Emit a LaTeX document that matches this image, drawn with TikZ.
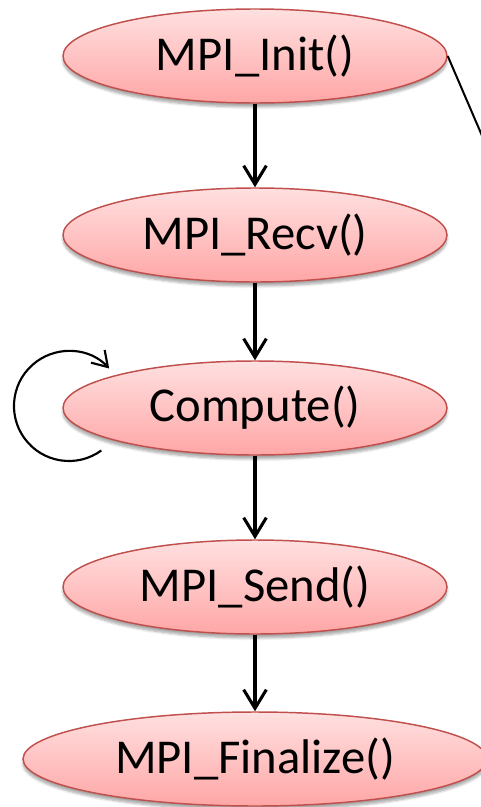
\documentclass[tikz,border=0pt]{standalone}
\usepackage{fontspec}
\setmainfont{Carlito}
\usetikzlibrary{shapes.geometric,arrows.meta,shadows.blur}

\definecolor{ovalTop}{RGB}{255,224,224}
\definecolor{ovalBottom}{RGB}{255,166,166}
\definecolor{ovalEdge}{RGB}{192,80,77}

\tikzset{
  callbox/.style={
    ellipse, draw=ovalEdge, line width=1.1pt,
    top color=ovalTop, bottom color=ovalBottom,
    minimum width=288pt, minimum height=70.5pt, inner sep=0pt,
    font=\fontsize{36.5}{40}\selectfont,
    blur shadow={shadow xshift=0pt, shadow yshift=-3pt,
                 shadow blur steps=6, shadow opacity=35}
  },
  flow/.style={line width=2.3pt,
    -{Straight Barb[length=14pt,width=17pt,line width=2.3pt]}},
  thinline/.style={line width=1.5pt},
  loopline/.style={line width=1.6pt,
    -{Straight Barb[length=11pt,width=14pt,line width=1.6pt]}}
}

\begin{document}
\begin{tikzpicture}[x=0.75pt,y=-0.75pt]
  \useasboundingbox (0,0) rectangle (481,807);

  % calls of the MPI program, top to bottom
  \node[callbox] (init)    at (255,56)  {MPI\_Init()};
  \node[callbox] (recv)    at (255,235) {MPI\_Recv()};
  \node[callbox] (compute) at (255,408) {Compute()};
  \node[callbox] (send)    at (255,587) {MPI\_Send()};
  \node[callbox, minimum width=348pt] (final) at (255,759) {MPI\_Finalize()};

  % control flow
  \draw[flow] (init.south)    -- (recv.north);
  \draw[flow] (recv.south)    -- (compute.north);
  \draw[flow] (compute.south) -- (send.north);
  \draw[flow] (send.south)    -- (final.north);

  % line leaving to the right of MPI_Init()
  \coordinate (away) at (483,138);
  \draw[thinline] (init.east) -- (away);

  % repeated computation
  \coordinate (loopstart) at (101.3,450.5);
  \draw[loopline] (loopstart) arc[start angle=54, end angle=317, radius=55];
\end{tikzpicture}
\end{document}
